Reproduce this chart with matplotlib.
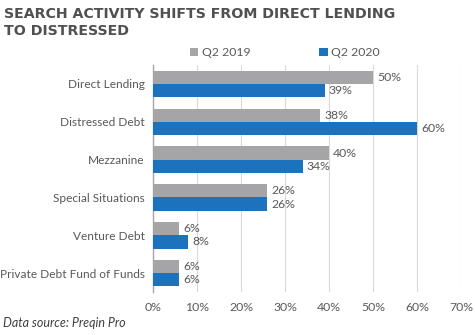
import matplotlib.pyplot as plt
import numpy as np

plt.rcParams['font.family'] = ['Lato', 'DejaVu Sans']

categories = ["Direct Lending", "Distressed Debt", "Mezzanine",
              "Special Situations", "Venture Debt", "Private Debt Fund of Funds"]
q2_2019 = [50, 38, 40, 26, 6, 6]
q2_2020 = [39, 60, 34, 26, 8, 6]
series_names = ["Q2 2019", "Q2 2020"]
xticks = [0, 10, 20, 30, 40, 50, 60, 70]

gray = "#A5A5A7"
blue = "#1C72BC"
txt = "#595959"

fig = plt.figure(figsize=(4.75, 3.35), dpi=100)
ax = fig.add_axes([0.322, 0.128, 0.6485, 0.678])

y = np.arange(len(categories))
h = 0.35
b1 = ax.barh(y - h / 2, q2_2019, height=h, color=gray, label=series_names[0], zorder=3)
b2 = ax.barh(y + h / 2, q2_2020, height=h, color=blue, label=series_names[1], zorder=3)

# value labels at the end of each bar
for bars, vals in ((b1, q2_2019), (b2, q2_2020)):
    for r, v in zip(bars, vals):
        ax.text(v + 0.9, r.get_y() + r.get_height() / 2, f"{v}%",
                va="center", ha="left", fontsize=8.8, color=txt)

ax.set_xlim(0, 70)
ax.set_ylim(len(categories) - 0.5, -0.5)
ax.set_xticks(xticks)
ax.set_xticklabels([f"{t}%" for t in xticks], fontsize=8.8, color=txt)
ax.set_yticks(y)
ax.set_yticklabels(categories, fontsize=8.6, color=txt)
ax.tick_params(axis="both", length=0, pad=6)
ax.tick_params(axis="x", pad=7)
ax.grid(axis="x", color="#D9D9D9", linewidth=0.8, zorder=0)
for s in ["top", "right", "bottom"]:
    ax.spines[s].set_visible(False)
ax.spines["left"].set_color("#A6A6A6")
ax.spines["left"].set_linewidth(1.0)

fig.text(0.008, 0.978, "SEARCH ACTIVITY SHIFTS FROM DIRECT LENDING\nTO DISTRESSED",
         fontsize=10.2, fontweight="bold", color="#505050", va="top", ha="left",
         linespacing=1.2, family="DejaVu Sans")

leg = fig.legend(handles=[b1, b2], loc="center", bbox_to_anchor=(0.6, 0.843), ncol=2,
                 frameon=False, fontsize=8.8, handlelength=0.7, handleheight=0.7,
                 handletextpad=0.3, columnspacing=5.6)
for t in leg.get_texts():
    t.set_color(txt)

fig.text(0.006, 0.035, "Data source: Preqin Pro", fontsize=9, style="italic",
         color="#404040", ha="left", va="center")

fig.savefig("out.png", dpi=100)
